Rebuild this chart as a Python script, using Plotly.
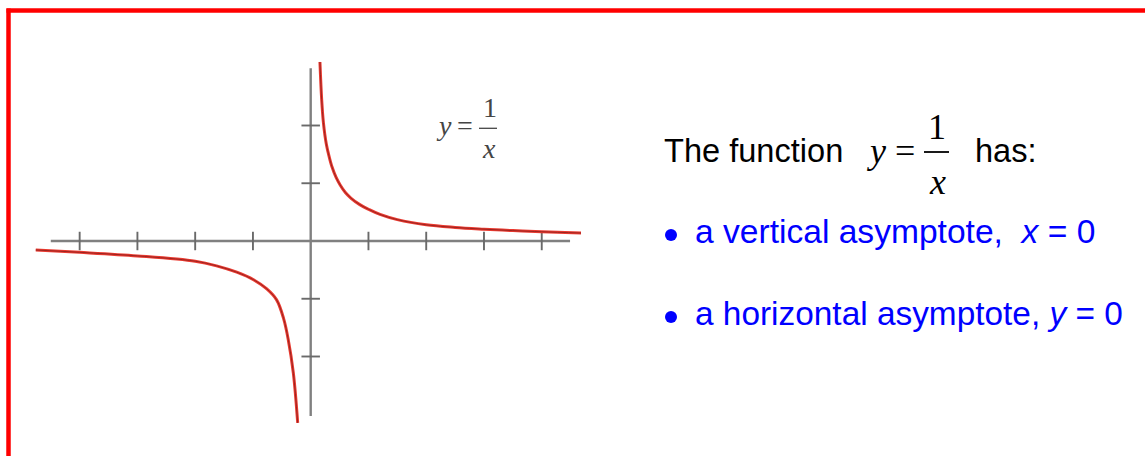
import plotly.graph_objects as go

W, H = 1145, 456

# ---- data (tick units) ----
right_x = [0.16, 0.19, 0.22, 0.27, 0.32, 0.37, 0.44, 0.51, 0.60, 0.70, 0.85, 1.0, 1.2, 1.5, 2.0, 2.5, 3.0, 3.5, 4.0, 4.68]
right_y = [3.10, 2.45, 2.05, 1.68, 1.46, 1.28, 1.10, 0.97, 0.84, 0.74, 0.63, 0.55, 0.46, 0.37, 0.28, 0.235, 0.205, 0.18, 0.16, 0.138]
left_x = [-4.76, -4.0, -3.0, -2.0, -1.63, -1.28, -0.99, -0.76, -0.59, -0.47, -0.39, -0.30, -0.225]
left_y = [-0.156, -0.196, -0.258, -0.35, -0.43, -0.54, -0.67, -0.83, -1.02, -1.34, -1.70, -2.29, -3.15]

x_ticks = [-4, -3, -2, -1, 1, 2, 3, 4]
y_ticks = [-2, -1, 1, 2]
x_axis_span = [-4.5, 4.49]
y_axis_span = [-3.03, 2.99]
tick_half = 0.16

# pixel -> data mapping of the reference
X0, UX = 310.7, 57.76
Y0, UY = 241.0, 57.75
x_range = [(0 - X0) / UX, (W - X0) / UX]
y_range = [(Y0 - H) / UY, Y0 / UY]

def px(p):
    return p / W

def py(p):
    return 1 - p / H

fig = go.Figure()

AX = "#808080"
# axes
fig.add_trace(go.Scatter(x=x_axis_span, y=[0, 0], mode="lines",
                         line=dict(color=AX, width=2.4), hoverinfo="skip"))
fig.add_trace(go.Scatter(x=[0, 0], y=y_axis_span, mode="lines",
                         line=dict(color=AX, width=2.4), hoverinfo="skip"))
# ticks
tx, ty = [], []
for t in x_ticks:
    tx += [t, t, None]
    ty += [-tick_half, tick_half, None]
for t in y_ticks:
    tx += [-tick_half, tick_half, None]
    ty += [t, t, None]
fig.add_trace(go.Scatter(x=tx, y=ty, mode="lines",
                         line=dict(color="#6a6a6a", width=1.9), hoverinfo="skip"))

# curve branches (red edge, dark core)
for xs, ys in [(right_x, right_y), (left_x, left_y)]:
    fig.add_trace(go.Scatter(x=xs, y=ys, mode="lines", line_shape="spline",
                             line=dict(color="#ea3a30", width=3.0), hoverinfo="skip"))
    fig.add_trace(go.Scatter(x=xs, y=ys, mode="lines", line_shape="spline",
                             line=dict(color="#9a2420", width=1.0), hoverinfo="skip"))

SANS = "Liberation Sans, Arial, sans-serif"
SERIF = "Liberation Serif, Times New Roman, serif"

ann = []
def add_text(text, x, y, size, color, family, xanchor="left", yanchor="middle"):
    ann.append(dict(text=text, x=px(x), y=py(y), xref="paper", yref="paper",
                    xanchor=xanchor, yanchor=yanchor, showarrow=False,
                    font=dict(size=size, color=color, family=family)))

# in-graph label y = 1/x
GL = "#454545"
add_text("<i>y</i>\u2009=", 475, 125.5, 28, GL, SERIF, xanchor="right")
add_text("1", 489.5, 107.5, 28, GL, SERIF, xanchor="center")
add_text("<i>x</i>", 488.5, 148.5, 28, GL, SERIF, xanchor="center")

# right-hand text
add_text("The function", 662, 150.3, 32.6, "black", SANS)
add_text("<i>y</i> =", 917, 151, 36, "black", SERIF, xanchor="right")
add_text("1", 936.5, 127, 36, "black", SERIF, xanchor="center")
add_text("<i>x</i>", 937, 182, 36, "black", SERIF, xanchor="center")
add_text("has:", 973, 150.3, 32.6, "black", SANS)
add_text("a vertical asymptote,\u00a0 <i>x</i> = 0", 693, 231.9, 33.6, "#0000ff", SANS)
add_text("a horizontal asymptote, <i>y</i> = 0", 693, 313.6, 33.4, "#0000ff", SANS)

shapes = [
    # red frame (continues past right and bottom edges)
    dict(type="line", xref="paper", yref="paper", x0=px(6.5), x1=px(W + 10),
         y0=py(10.5), y1=py(10.5), line=dict(color="#ff0000", width=4.5)),
    dict(type="line", xref="paper", yref="paper", x0=px(8.5), x1=px(8.5),
         y0=py(8.5), y1=py(H + 10), line=dict(color="#ff0000", width=4.5)),
    # fraction bars
    dict(type="line", xref="paper", yref="paper", x0=px(479), x1=px(497),
         y0=py(128.3), y1=py(128.3), line=dict(color=GL, width=1.3)),
    dict(type="line", xref="paper", yref="paper", x0=px(924), x1=px(949),
         y0=py(152), y1=py(152), line=dict(color="black", width=1.8)),
    # bullets
    dict(type="circle", xref="paper", yref="paper", x0=px(665), x1=px(677),
         y0=py(229), y1=py(241), fillcolor="#0000ff", line=dict(width=0)),
    dict(type="circle", xref="paper", yref="paper", x0=px(665), x1=px(677),
         y0=py(311), y1=py(323), fillcolor="#0000ff", line=dict(width=0)),
]

fig.update_layout(
    width=W, height=H,
    margin=dict(l=0, r=0, t=0, b=0),
    paper_bgcolor="white", plot_bgcolor="white",
    showlegend=False, hovermode=False,
    xaxis=dict(range=x_range, visible=False, fixedrange=True),
    yaxis=dict(range=y_range, visible=False, fixedrange=True),
    annotations=ann, shapes=shapes,
)

fig.write_html("out.html", config={"displayModeBar": False},
               post_script="document.body.style.margin='0';document.body.style.overflow='hidden';")
